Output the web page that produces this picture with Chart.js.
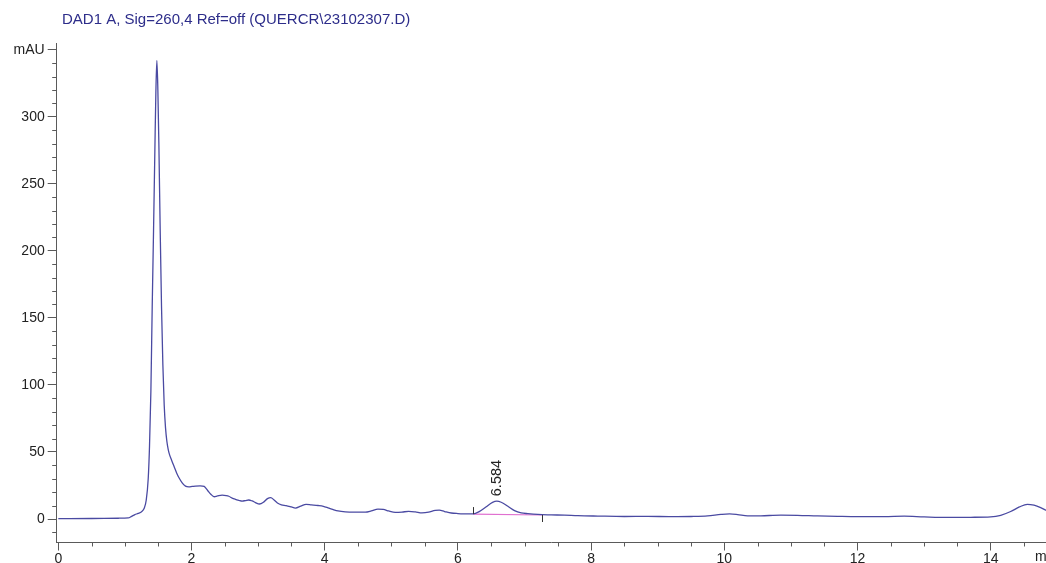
<!DOCTYPE html>
<html>
<head>
<meta charset="utf-8">
<script src="https://cdn.jsdelivr.net/npm/chart.js@4.4.1/dist/chart.umd.min.js"></script>
<style>
  html, body { margin: 0; padding: 0; background: #ffffff; }
  #wrap { position: relative; width: 1046px; height: 563px; }
</style>
</head>
<body>
<div id="wrap"><canvas id="c" width="1046" height="563"></canvas></div>
<script>
// ---- Data ----
const chartTitle = 'DAD1 A, Sig=260,4 Ref=off (QUERCR\\23102307.D)';
const yUnit = 'mAU';
const xUnit = 'min';

const times = [
  0.00, 0.50, 0.90, 1.05, 1.10, 1.15, 1.20, 1.25, 1.29, 1.32, 1.35, 1.37, 1.39, 1.41, 1.43, 1.45, 1.465, 1.48,
  1.495, 1.51, 1.53, 1.55, 1.57, 1.59, 1.61, 1.63, 1.65, 1.67, 1.70, 1.74, 1.78, 1.81, 1.86, 1.91, 1.96, 2.01,
  2.06, 2.13, 2.19, 2.24, 2.29, 2.34, 2.39, 2.46, 2.52, 2.56, 2.61, 2.66, 2.71, 2.76, 2.81, 2.86, 2.91, 2.96,
  3.02, 3.08, 3.14, 3.19, 3.24, 3.29, 3.35, 3.42, 3.50, 3.56, 3.64, 3.72, 3.80, 3.90, 3.98, 4.05, 4.12, 4.20,
  4.31, 4.45, 4.61, 4.70, 4.80, 4.88, 4.96, 5.06, 5.16, 5.26, 5.36, 5.46, 5.56, 5.66, 5.72, 5.80, 5.90, 6.00,
  6.10, 6.23, 6.32, 6.42, 6.52, 6.584, 6.65, 6.75, 6.85, 6.95, 7.05, 7.20, 7.40, 7.60, 7.80, 8.10, 8.50, 8.85,
  9.20, 9.50, 9.75, 9.95, 10.08, 10.20, 10.35, 10.55, 10.85, 11.10, 11.40, 11.70, 12.00, 12.40, 12.70, 13.00,
  13.35, 13.70, 14.00, 14.15, 14.30, 14.43, 14.55, 14.65, 14.75, 14.83
];
const signal = [
  0.3, 0.4, 0.6, 0.8, 2.0, 3.3, 4.2, 5.5, 8, 14, 30, 55, 95, 158, 215, 275, 318, 342,
  320, 280, 215, 158, 115, 85, 68, 58, 52, 48, 44, 39, 34, 31, 27, 24.5, 24, 24.3,
  24.6, 24.8, 24.3, 21.5, 18.5, 16.6, 17.2, 17.8, 17.5, 17, 15.6, 14.7, 14, 13.4, 13.8, 14.2, 13.5, 12.3,
  11.2, 12.5, 15.2, 16, 14.2, 12, 10.6, 10, 9, 8.2, 9.6, 11, 10.6, 10.1, 9.5, 8.4, 7.2, 6,
  5.3, 5.1, 5.1, 6, 7.4, 7.2, 6, 5, 5.2, 5.7, 5.3, 4.6, 5.1, 6.5, 6.6, 5.6, 4.5, 4.1,
  3.9, 3.8, 5.5, 9, 12.4, 13.3, 12.5, 9.5, 6.3, 4.6, 4.0, 3.4, 3.1, 2.9, 2.5, 2.2, 1.9, 2.0,
  1.8, 1.9, 2.3, 3.4, 3.8, 3.3, 2.3, 2.4, 2.9, 2.8, 2.3, 2.0, 1.8, 1.8, 2.1, 1.6,
  1.2, 1.3, 1.6, 2.8, 5.6, 9, 11, 10.3, 8.5, 6.5
];

// integrated peak: retention time, baseline start/end
const peakTimes = [6.584];
const peakHeights = [13.3];
const baselineTimes = [6.23, 7.26];
const baselineValues = [3.7, 3.0];

// axis ticks
const yLabelValues = [0, 50, 100, 150, 200, 250, 300];
const yUnitTickValue = 350;
const xLabelValues = [0, 2, 4, 6, 8, 10, 12, 14];

// ---- Chart ----
const traceData = times.map((t, i) => ({ x: t, y: signal[i] }));
const baseData = baselineTimes.map((t, i) => ({ x: t, y: baselineValues[i] }));

const AXIS = '#5a5a5a';
const TEXT = '#222222';
const FONT = 'Liberation Sans, Arial, sans-serif';

const extras = {
  id: 'extras',
  afterDraw(chart) {
    const ctx = chart.ctx;
    const xs = chart.scales.x, ys = chart.scales.y;
    const ca = chart.chartArea;
    ctx.save();
    // minor ticks
    ctx.strokeStyle = AXIS;
    ctx.lineWidth = 1;
    ctx.beginPath();
    for (let v = -10; v <= 350; v += 10) {
      if (v % 50 === 0) continue;
      const py = Math.round(ys.getPixelForValue(v)) + 0.5;
      ctx.moveTo(ca.left - 4.5, py);
      ctx.lineTo(ca.left, py);
    }
    for (let k = 1; k <= 29; k++) {
      const v = k * 0.5;
      if (v % 2 === 0) continue;
      const px = Math.round(xs.getPixelForValue(v)) + 0.5;
      ctx.moveTo(px, ca.bottom);
      ctx.lineTo(px, ca.bottom + 4);
    }
    ctx.stroke();

    // title
    ctx.fillStyle = '#2d2d8a';
    ctx.font = '15px ' + FONT;
    ctx.textAlign = 'left';
    ctx.textBaseline = 'middle';
    ctx.fillText(chartTitle, 62, 20);

    // x unit label
    ctx.fillStyle = TEXT;
    ctx.font = '14px ' + FONT;
    ctx.textBaseline = 'middle';
    ctx.fillText(xUnit, 1035, 557);

    // baseline ticks
    ctx.strokeStyle = '#333333';
    ctx.beginPath();
    const bx0 = Math.round(xs.getPixelForValue(baselineTimes[0])) + 0.5;
    const by0 = ys.getPixelForValue(baselineValues[0]);
    ctx.moveTo(bx0, by0); ctx.lineTo(bx0, by0 - 7);
    const bx1 = Math.round(xs.getPixelForValue(baselineTimes[1])) + 0.5;
    const by1 = ys.getPixelForValue(baselineValues[1]);
    ctx.moveTo(bx1, by1); ctx.lineTo(bx1, by1 + 7);
    ctx.stroke();

    // peak label (rotated)
    peakTimes.forEach((rt, i) => {
      const px = xs.getPixelForValue(rt);
      const py = ys.getPixelForValue(peakHeights[i]);
      ctx.save();
      ctx.translate(px, py - 5);
      ctx.rotate(-Math.PI / 2);
      ctx.fillStyle = TEXT;
      ctx.font = '14.5px ' + FONT;
      ctx.textAlign = 'left';
      ctx.textBaseline = 'middle';
      ctx.fillText(rt.toFixed(3), 0, 0);
      ctx.restore();
    });
    ctx.restore();
  }
};

new Chart(document.getElementById('c'), {
  type: 'line',
  data: {
    datasets: [
      {
        data: baseData,
        borderColor: '#e070d0',
        borderWidth: 1.2,
        pointRadius: 0,
        tension: 0,
        order: 2
      },
      {
        data: traceData,
        borderColor: '#4a4aa2',
        borderWidth: 1.3,
        pointRadius: 0,
        cubicInterpolationMode: 'monotone',
        order: 1
      }
    ]
  },
  options: {
    responsive: false,
    animation: false,
    devicePixelRatio: 1,
    layout: { padding: { top: 43, right: 0, left: 0, bottom: 0 }, autoPadding: false },
    plugins: { legend: { display: false }, tooltip: { enabled: false }, title: { display: false } },
    scales: {
      x: {
        type: 'linear',
        min: -0.024,
        max: 14.83,
        border: { color: AXIS, width: 1 },
        grid: {
          drawOnChartArea: false,
          drawTicks: true,
          tickLength: 8,
          tickColor: (c) => (c.tick && xLabelValues.includes(c.tick.value)) ? AXIS : 'rgba(0,0,0,0)'
        },
        ticks: {
          stepSize: 0.5,
          includeBounds: false,
          autoSkip: false,
          maxRotation: 0,
          padding: 0,
          color: TEXT,
          font: { family: FONT, size: 14 },
          callback: (v) => xLabelValues.includes(v) ? String(v) : ''
        },
        afterFit: (s) => { s.height = 20.5; }
      },
      y: {
        type: 'linear',
        min: -17.5,
        max: 355,
        border: { color: AXIS, width: 1 },
        grid: {
          drawOnChartArea: false,
          drawTicks: true,
          tickLength: 9,
          tickColor: (c) => (c.tick && (yLabelValues.includes(c.tick.value) || c.tick.value === yUnitTickValue)) ? AXIS : 'rgba(0,0,0,0)'
        },
        ticks: {
          stepSize: 10,
          includeBounds: false,
          autoSkip: false,
          padding: 3,
          color: TEXT,
          font: { family: FONT, size: 14 },
          callback: (v) => v === yUnitTickValue ? yUnit : (yLabelValues.includes(v) ? String(v) : '')
        },
        afterFit: (s) => { s.width = 56.7; }
      }
    }
  },
  plugins: [extras]
});
</script>
</body>
</html>
